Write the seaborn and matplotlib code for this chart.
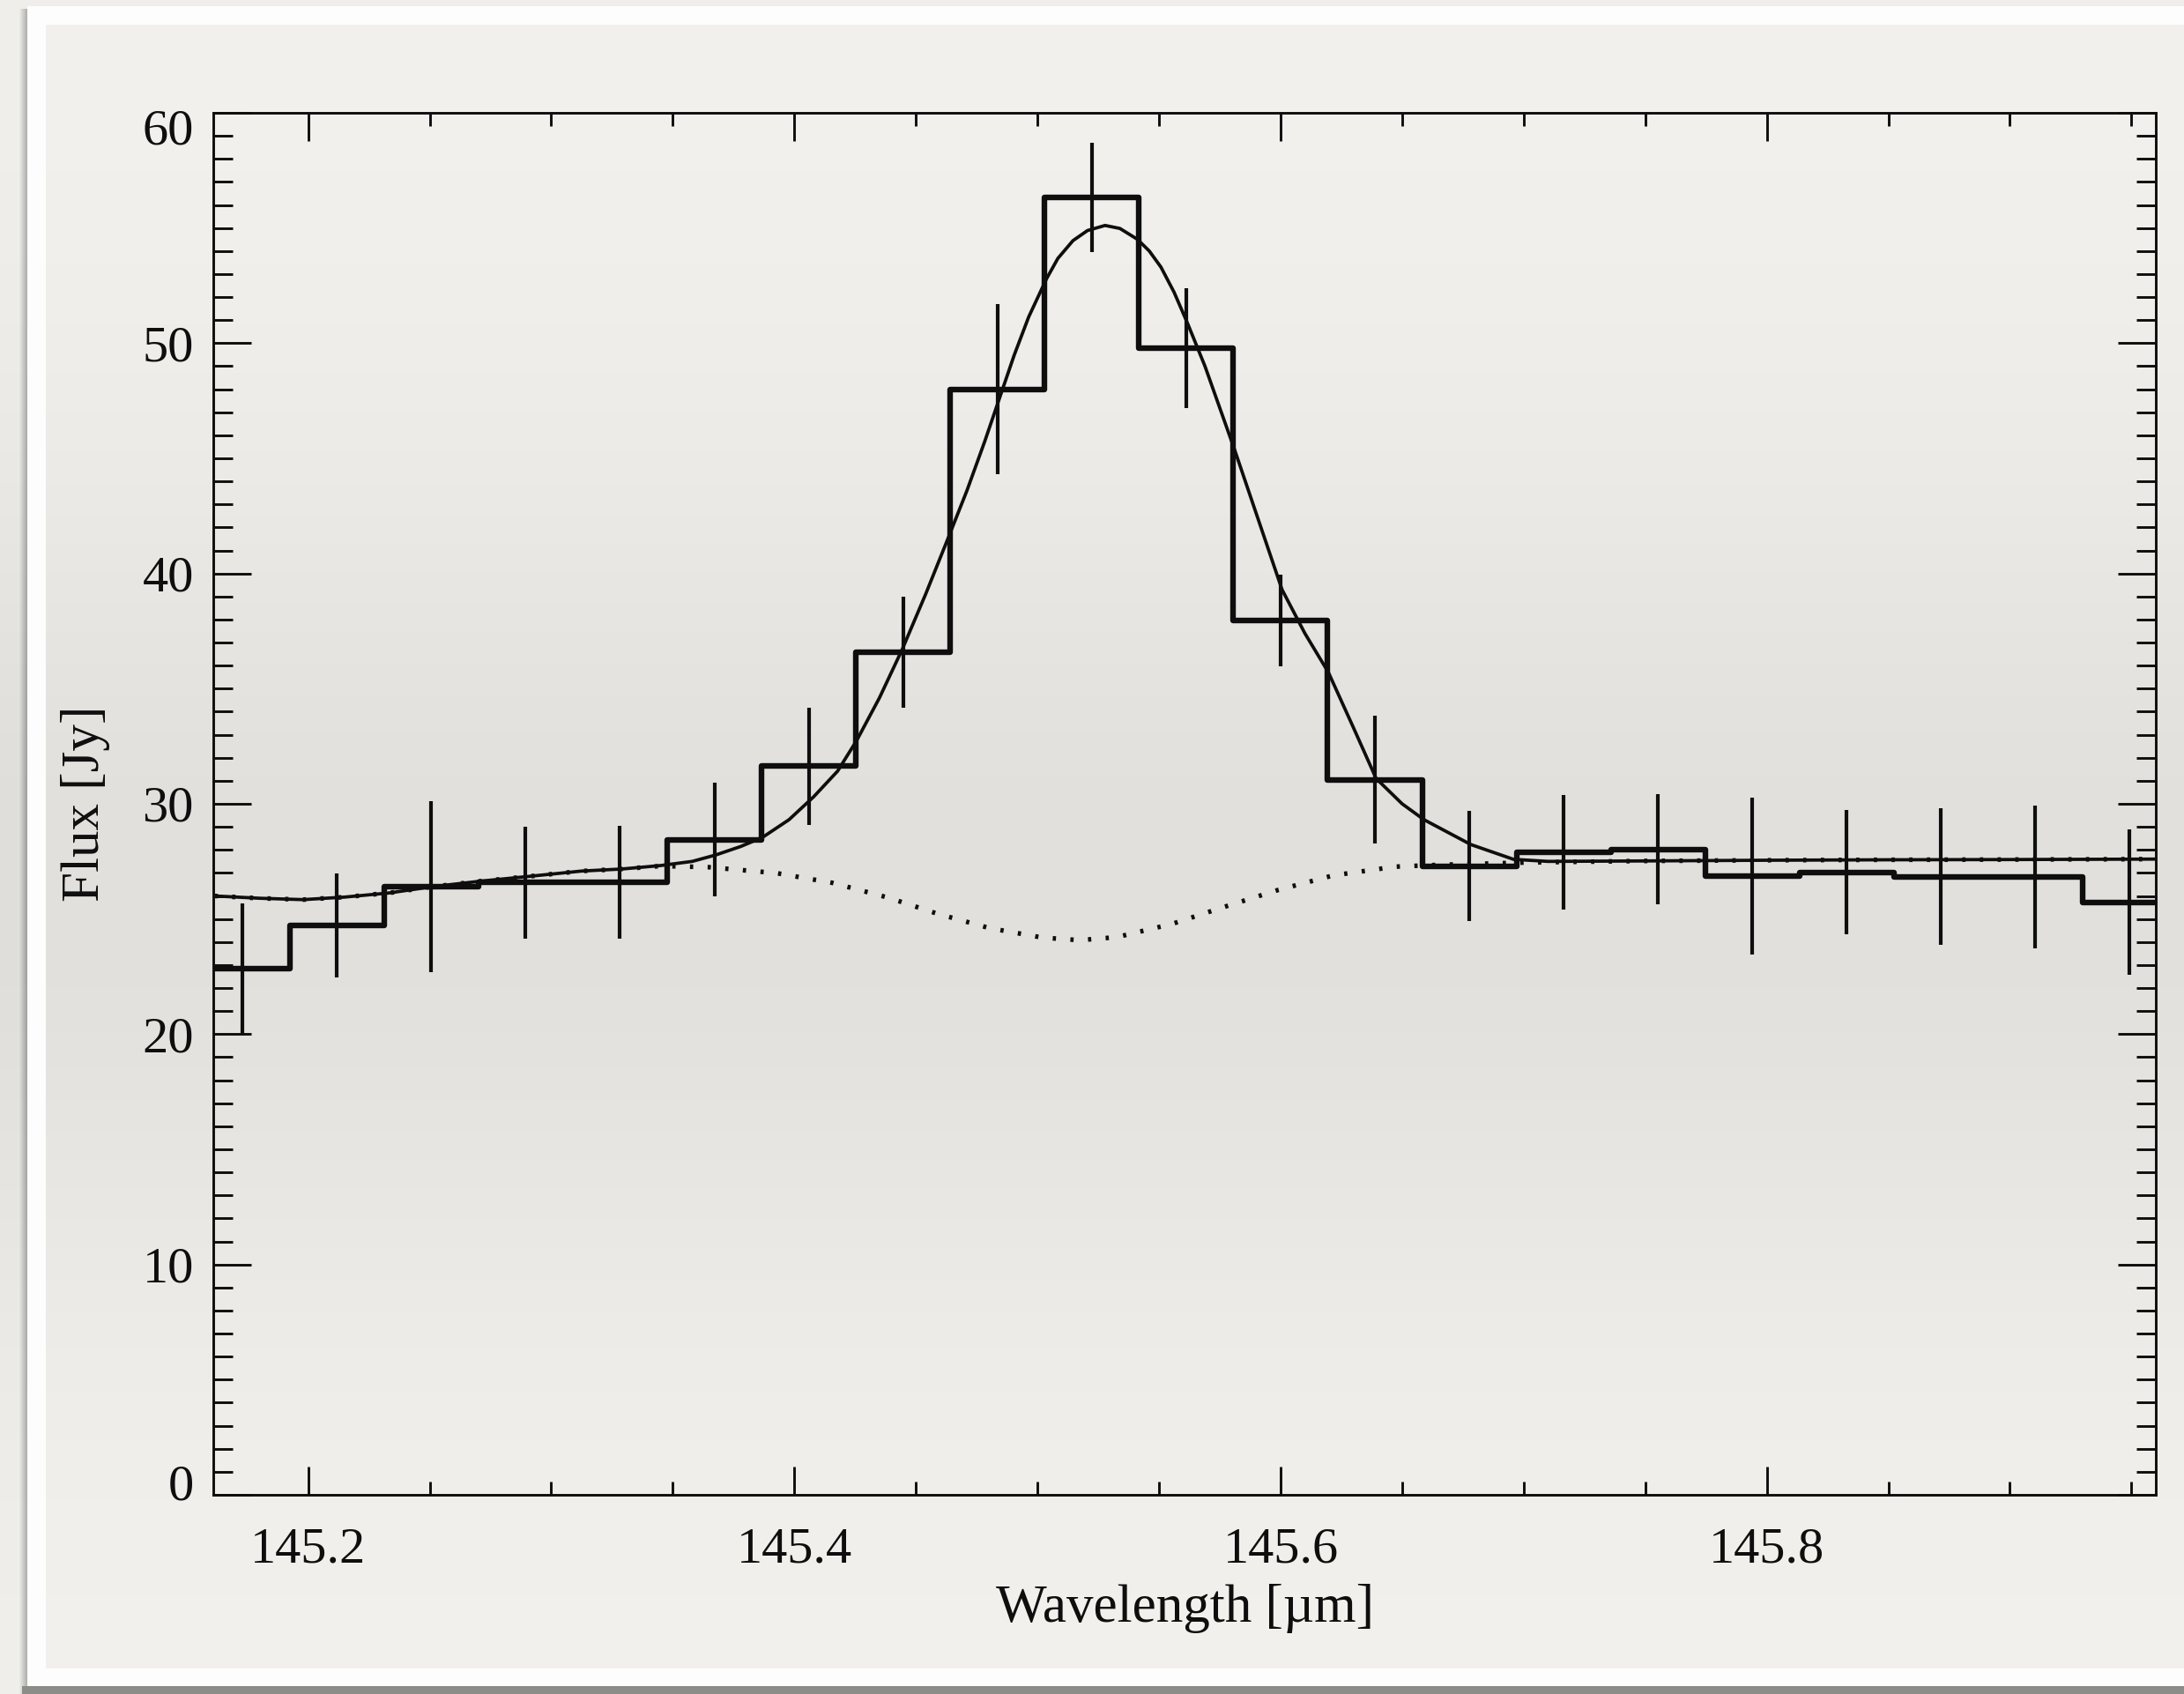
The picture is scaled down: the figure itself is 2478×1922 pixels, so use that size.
import numpy as np
import pandas as pd
import matplotlib
matplotlib.use("Agg")
import matplotlib.pyplot as plt
import matplotlib.transforms as mtransforms
from matplotlib.ticker import MultipleLocator, FixedLocator
import seaborn as sns

# ---- binned spectrum -------------------------------------------------------
wave_bins = [145.1731, 145.2119, 145.2507, 145.2895, 145.3283, 145.3672,
             145.4060, 145.4448, 145.4836, 145.5224, 145.5612, 145.6000,
             145.6388, 145.6776, 145.7165, 145.7553, 145.7941, 145.8329,
             145.8717, 145.9105, 145.9493]
flux_bins = [22.86, 24.72, 26.40, 26.58, 26.58, 28.45, 31.64, 36.59, 48.00,
             56.33, 49.79, 37.96, 31.04, 27.30, 27.88, 28.02, 26.85, 27.02,
             26.83, 26.83, 25.72]
flux_err = [2.83, 2.25, 3.72, 2.43, 2.45, 2.45, 2.55, 2.42, 3.70, 2.36, 2.61,
            1.98, 2.78, 2.39, 2.49, 2.39, 3.41, 2.70, 2.97, 3.10, 3.16]

# ---- fitted line + continuum ----------------------------------------------
model_wave = [145.1615, 145.1800, 145.1979, 145.2150, 145.2333, 145.2510,
              145.2708, 145.2909, 145.3124, 145.3291, 145.3450, 145.3580,
              145.3677, 145.3780, 145.3870, 145.3978, 145.4079, 145.4178,
              145.4257, 145.4350, 145.4444, 145.4540, 145.4632, 145.4710,
              145.4783, 145.4904, 145.4964, 145.5037, 145.5084, 145.5146,
              145.5206, 145.5278, 145.5339, 145.5411, 145.5460, 145.5508,
              145.5562, 145.5617, 145.5689, 145.5810, 145.5900, 145.6006,
              145.6100, 145.6197, 145.6300, 145.6393, 145.6500, 145.6590,
              145.6783, 145.6958, 145.7100, 145.7500, 145.8000, 145.8500,
              145.9000, 145.9600]
model_flux = [26.00, 25.90, 25.84, 25.95, 26.13, 26.40,
              26.64, 26.85, 27.08, 27.17, 27.32, 27.50,
              27.78, 28.15, 28.55, 29.31, 30.30, 31.42,
              32.76, 34.60, 36.71, 39.10, 41.52, 43.60,
              45.73, 49.47, 51.14, 52.79, 53.68, 54.45,
              54.89, 55.11, 54.98, 54.51, 54.00, 53.30,
              52.21, 50.87, 49.00, 45.40, 42.60, 39.30,
              37.40, 35.70, 33.30, 31.10, 30.00, 29.31,
              28.23, 27.59, 27.50, 27.52, 27.55, 27.57,
              27.58, 27.60]

# ---- continuum component ---------------------------------------------------
cont_wave = [145.1615, 145.1800, 145.1979, 145.2150, 145.2333, 145.2510,
             145.2708, 145.2909, 145.3124, 145.3291, 145.3450, 145.3647,
             145.3927, 145.4156, 145.4385, 145.4588, 145.4804, 145.5021,
             145.5173, 145.5326, 145.5555, 145.5758, 145.5987, 145.6216,
             145.6470, 145.6650, 145.7000, 145.7500, 145.8000, 145.8500,
             145.9000, 145.9600]
cont_flux = [26.00, 25.90, 25.84, 25.95, 26.13, 26.40,
             26.64, 26.85, 27.08, 27.17, 27.30, 27.25,
             26.99, 26.57, 25.93, 25.23, 24.60, 24.19,
             24.08, 24.21, 24.79, 25.49, 26.25, 26.89,
             27.27, 27.35, 27.45, 27.52, 27.55, 27.57,
             27.58, 27.60]

x_major = [145.2, 145.4, 145.6, 145.8]
x_labels = ["145.2", "145.4", "145.6", "145.8"]
y_major = [0, 10, 20, 30, 40, 50, 60]
y_labels = ["0", "10", "20", "30", "40", "50", "60"]

x_label = "Wavelength [µm]"
y_label = "Flux [Jy]"

# ---- style -----------------------------------------------------------------
sns.set_style("ticks")
plt.rcParams["font.family"] = ["Liberation Serif", "DejaVu Serif"]
plt.rcParams["axes.linewidth"] = 1.0
ink = "#0e0e0e"

W, H = 2478, 1922
DPI = 200
fig = plt.figure(figsize=(W / DPI, H / DPI), dpi=DPI)

# ---- paper backdrop with white mount and drop shadow -----------------------
yy, xx = np.mgrid[0:H, 0:W]
L = 243.0 - 17.0 * np.exp(-((yy - 1000.0) / 480.0) ** 2)
img = np.stack([L, L - 2.0, L - 6.0], axis=-1)
outer = np.stack([L - 2.0, L - 4.0, L - 8.0], axis=-1)
bg = outer.copy()
# left shadow
shadow_l = (xx >= 21) & (xx < 31) & (yy >= 10)
t = np.clip((xx - 21) / 10.0, 0, 1)
shade = (L - 3.0) - 70.0 * t
bg[shadow_l] = np.stack([shade, shade, shade - 3], axis=-1)[shadow_l]
# bottom shadow
shadow_b = (yy >= 1913) & (xx >= 25)
shade_b = np.full_like(L, 140.0)
bg[shadow_b] = np.stack([shade_b, shade_b, shade_b - 4], axis=-1)[shadow_b]
# white mount
mount = (xx >= 31) & (yy >= 7) & (yy < 1913)
bg[mount] = 253.0
# inner paper
inner = (xx >= 52) & (yy >= 28) & (yy < 1893)
bg[inner] = img[inner]

ax_bg = fig.add_axes([0, 0, 1, 1], zorder=-10)
ax_bg.imshow(np.clip(bg, 0, 255).astype(np.uint8), extent=[0, W, H, 0],
             aspect="auto", interpolation="bilinear")
ax_bg.set_axis_off()

# ---- main plot -------------------------------------------------------------
left, right, top, bottom = 242, 2446, 128, 1696
ax = fig.add_axes([left / W, 1 - bottom / H, (right - left) / W, (bottom - top) / H])
ax.set_facecolor("none")

# histogram steps from bin edges
width = wave_bins[1] - wave_bins[0]
edges = [w - width / 2 for w in wave_bins] + [wave_bins[-1] + width / 2]
steps = pd.DataFrame({"wave": edges, "flux": flux_bins + [flux_bins[-1]]})
sns.lineplot(data=steps, x="wave", y="flux", ax=ax, color=ink, lw=2.3,
             drawstyle="steps-post", estimator=None, sort=False, zorder=3)

ax.errorbar(wave_bins, flux_bins, yerr=flux_err, fmt="none", ecolor=ink,
            elinewidth=1.5, capsize=0, zorder=4)

model = pd.DataFrame({"wave": model_wave, "flux": model_flux})
sns.lineplot(data=model, x="wave", y="flux", ax=ax, color=ink, lw=1.35,
             solid_joinstyle="round", estimator=None, sort=False, zorder=5)

cont = pd.DataFrame({"wave": cont_wave, "flux": cont_flux})
sns.lineplot(data=cont, x="wave", y="flux", ax=ax, color=ink, lw=1.9,
             linestyle=(0, (0.7, 3.1)), estimator=None, sort=False, zorder=5)

ax.set_xlim(145.161, 145.960)
ax.set_ylim(0, 60)

ax.xaxis.set_major_locator(FixedLocator(x_major))
ax.set_xticklabels(x_labels)
ax.xaxis.set_minor_locator(MultipleLocator(0.05))
ax.yaxis.set_major_locator(FixedLocator(y_major))
ax.set_yticklabels(y_labels)
ax.yaxis.set_minor_locator(MultipleLocator(1))

ax.tick_params(which="both", direction="in", top=True, right=True,
               color=ink, width=1.05, labelcolor=ink)
ax.xaxis.set_tick_params(which="major", length=11.5, pad=13, labelsize=21)
ax.xaxis.set_tick_params(which="minor", length=5.5)
ax.yaxis.set_tick_params(which="major", length=15.5, pad=8, labelsize=21)
ax.yaxis.set_tick_params(which="minor", length=8.0)
for s in ax.spines.values():
    s.set_color(ink)
    s.set_linewidth(1.05)

ax.set_xlabel(x_label, fontsize=22, color=ink)
ax.set_ylabel(y_label, fontsize=22, color=ink)
ax.xaxis.label.set_va("center")
ax.yaxis.label.set_va("center")
ax.xaxis.set_label_coords(0.5, (bottom - 1825) / (bottom - top))
ax.yaxis.set_label_coords((97 - left) / (right - left), 0.5)

# end labels of the flux axis sit inside the frame
ylabs = ax.get_yticklabels()
ylabs[0].set_transform(ylabs[0].get_transform() +
                       mtransforms.ScaledTranslation(0, 14 / DPI, fig.dpi_scale_trans))
ylabs[-1].set_transform(ylabs[-1].get_transform() +
                        mtransforms.ScaledTranslation(0, -16 / DPI, fig.dpi_scale_trans))

fig.savefig("out.png", dpi=DPI)
